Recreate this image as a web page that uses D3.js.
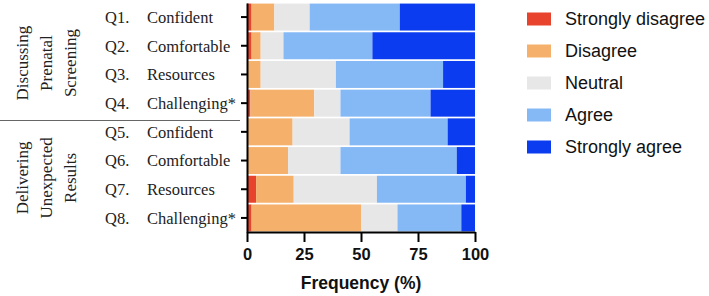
<!DOCTYPE html>
<html>
<head>
<meta charset="utf-8">
<script src="https://cdn.jsdelivr.net/npm/d3@7"></script>
<style>
  body { margin: 0; background: #fff; }
</style>
</head>
<body>
<div class="container"></div>
<script>
// Size of frame
const width = 709;
const height = 296;
const margin = { left: 247, right: 234, top: 3, bottom: 64 };

// Questions, top to bottom
const questions = ['Q1.', 'Q2.', 'Q3.', 'Q4.', 'Q5.', 'Q6.', 'Q7.', 'Q8.'];
const labels = ['Confident', 'Comfortable', 'Resources', 'Challenging*',
  'Confident', 'Comfortable', 'Resources', 'Challenging*'];

// Response levels
const levels = ['Strongly disagree', 'Disagree', 'Neutral', 'Agree', 'Strongly agree'];
const colors = ['#e8432d', '#f5b16b', '#e7e7e7', '#85b9f6', '#0b3cef'];

// Percent per question
const stronglyDisagree = [2, 2, 0, 1.5, 0, 0, 4, 2];
const disagree = [10, 4, 6, 28, 20, 18, 16.5, 48];
const neutral = [15.5, 10, 33, 11.5, 25, 23, 36.5, 16];
const agree = [39.5, 39, 47, 39.5, 43, 51, 39, 28];
const stronglyAgree = [33, 45, 14, 19.5, 12, 8, 4, 6];

const xTicks = [0, 25, 50, 75, 100];

// Group labels on the left
const groups = [
  { lines: ['Discussing', 'Prenatal', 'Screening'], from: 0, to: 3 },
  { lines: ['Delivering', 'Unexpected', 'Results'], from: 4, to: 7 },
];

const table = questions.map((q, i) => ({
  q,
  label: labels[i],
  values: [stronglyDisagree[i], disagree[i], neutral[i], agree[i], stronglyAgree[i]],
}));

const serif = '"Liberation Serif", "Times New Roman", serif';
const sans = '"Liberation Sans", Arial, sans-serif';

const svg = d3.select('.container')
  .append('svg')
  .attr('width', width)
  .attr('height', height);

const x = d3.scaleLinear()
  .domain([0, 100])
  .range([margin.left, width - margin.right]);

const y = d3.scaleBand()
  .domain(questions)
  .range([margin.top, height - margin.bottom])
  .paddingInner(0.06)
  .paddingOuter(0.02);

// Stacked bars
const rows = svg.selectAll('.row')
  .data(table)
  .enter()
  .append('g')
  .attr('class', 'row');

rows.selectAll('rect')
  .data(d => {
    let acc = 0;
    return d.values.map((v, k) => {
      const seg = { q: d.q, k, x0: acc, x1: acc + v };
      acc += v;
      return seg;
    });
  })
  .enter()
  .append('rect')
  .attr('x', d => x(d.x0))
  .attr('width', d => Math.max(0, x(d.x1) - x(d.x0)))
  .attr('y', d => y(d.q))
  .attr('height', y.bandwidth())
  .attr('fill', d => colors[d.k]);

// X axis
const xAxis = svg.append('g')
  .attr('transform', `translate(0, ${height - margin.bottom})`)
  .call(d3.axisBottom(x).tickValues(xTicks).tickSize(10).tickSizeOuter(0).tickPadding(6));
xAxis.select('.domain').attr('stroke', '#000').attr('stroke-width', 2);
xAxis.selectAll('.tick line').attr('stroke', '#000').attr('stroke-width', 2);
xAxis.selectAll('.tick text')
  .attr('font-family', sans)
  .attr('font-weight', 'bold')
  .attr('font-size', 16.5)
  .attr('fill', '#111');

svg.append('text')
  .attr('x', (x(0) + x(100)) / 2)
  .attr('y', 289)
  .attr('text-anchor', 'middle')
  .attr('font-family', sans)
  .attr('font-weight', 'bold')
  .attr('font-size', 17.5)
  .attr('fill', '#111')
  .text('Frequency (%)');

// Y axis
const yAxis = svg.append('g')
  .attr('transform', `translate(${margin.left}, 0)`)
  .call(d3.axisLeft(y).tickSize(6).tickSizeOuter(0).tickFormat(''));
yAxis.select('.domain').attr('stroke', '#000').attr('stroke-width', 2);
yAxis.selectAll('.tick line').attr('stroke', '#000').attr('stroke-width', 2);

// Row labels
const rowLabels = svg.selectAll('.rowlabel')
  .data(table)
  .enter()
  .append('g')
  .attr('class', 'rowlabel')
  .attr('font-family', serif)
  .attr('font-size', 16.5)
  .attr('fill', '#222');

rowLabels.append('text')
  .attr('x', 105)
  .attr('y', d => y(d.q) + y.bandwidth() / 2)
  .attr('dy', '0.35em')
  .text(d => d.q);

rowLabels.append('text')
  .attr('x', 147)
  .attr('y', d => y(d.q) + y.bandwidth() / 2)
  .attr('dy', '0.35em')
  .text(d => d.label);

// Group labels, rotated
const lineX = [22, 46, 70];
groups.forEach(g => {
  const cy = (y(questions[g.from]) + y(questions[g.to]) + y.bandwidth()) / 2 + 3;
  g.lines.forEach((line, j) => {
    svg.append('text')
      .attr('transform', `translate(${lineX[j]}, ${cy}) rotate(-90)`)
      .attr('text-anchor', 'middle')
      .attr('dy', '0.35em')
      .attr('font-family', serif)
      .attr('font-size', 17)
      .attr('fill', '#222')
      .text(line);
  });
});

// Separator between groups
svg.append('line')
  .attr('x1', 0)
  .attr('x2', 240)
  .attr('y1', 120.5)
  .attr('y2', 120.5)
  .attr('stroke', '#666')
  .attr('stroke-width', 1.2);

// Legend
const legend = svg.selectAll('.legend')
  .data(levels)
  .enter()
  .append('g')
  .attr('class', 'legend')
  .attr('transform', (d, i) => `translate(527, ${19 + i * 32})`);

legend.append('rect')
  .attr('x', 0)
  .attr('y', -6.5)
  .attr('width', 24)
  .attr('height', 13)
  .attr('fill', (d, i) => colors[i]);

legend.append('text')
  .attr('x', 38)
  .attr('dy', '0.35em')
  .attr('font-family', sans)
  .attr('font-size', 18)
  .attr('fill', '#111')
  .text(d => d);
</script>
</body>
</html>
